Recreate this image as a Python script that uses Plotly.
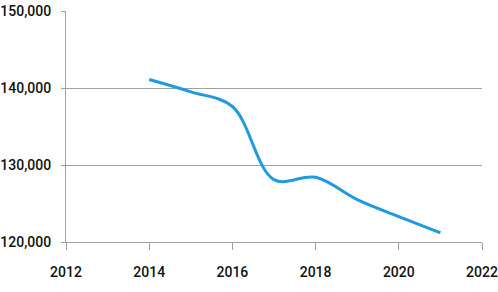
import plotly.graph_objects as go

years = [2014, 2015, 2016, 2017, 2018, 2019, 2020, 2021]
values = [141100, 139500, 137600, 128100, 128400, 125500, 123300, 121200]
x_ticks = [2012, 2014, 2016, 2018, 2020, 2022]
y_ticks = [120000, 130000, 140000, 150000]
y_labels = ["120,000", "130,000", "140,000", "150,000"]

fig = go.Figure()
fig.add_trace(go.Scatter(
    x=years, y=values, mode="lines",
    line=dict(color="#1f9ae0", width=3, shape="spline", smoothing=1.0),
    showlegend=False, hoverinfo="skip",
))

font = dict(family="Roboto, sans-serif", size=14, color="#111111", weight=500)
fig.update_layout(
    width=498, height=292,
    margin=dict(l=66, r=16, t=11, b=50),
    paper_bgcolor="white", plot_bgcolor="white",
    font=font,
)
fig.update_xaxes(
    range=[2012, 2022], tickvals=x_ticks, ticktext=[str(v) for v in x_ticks],
    showgrid=False, showline=True, linecolor="#a0a0a0", linewidth=1,
    ticks="outside", ticklen=7, tickcolor="#a0a0a0", zeroline=False,
    tickfont=font, fixedrange=True, automargin=False, ticklabelstandoff=10,
    ticklabeloverflow="allow",
)
fig.update_yaxes(
    range=[120000, 150000], tickvals=y_ticks, ticktext=y_labels,
    showgrid=True, gridcolor="#a0a0a0", gridwidth=1,
    showline=True, linecolor="#a0a0a0", linewidth=1,
    ticks="outside", ticklen=4, tickcolor="#a0a0a0", zeroline=False,
    tickfont=font, fixedrange=True, automargin=False, ticklabelstandoff=7,
    ticklabeloverflow="allow",
)
fig.write_html("out.html", post_script="document.body.style.margin='0';",
               config={"displayModeBar": False})
